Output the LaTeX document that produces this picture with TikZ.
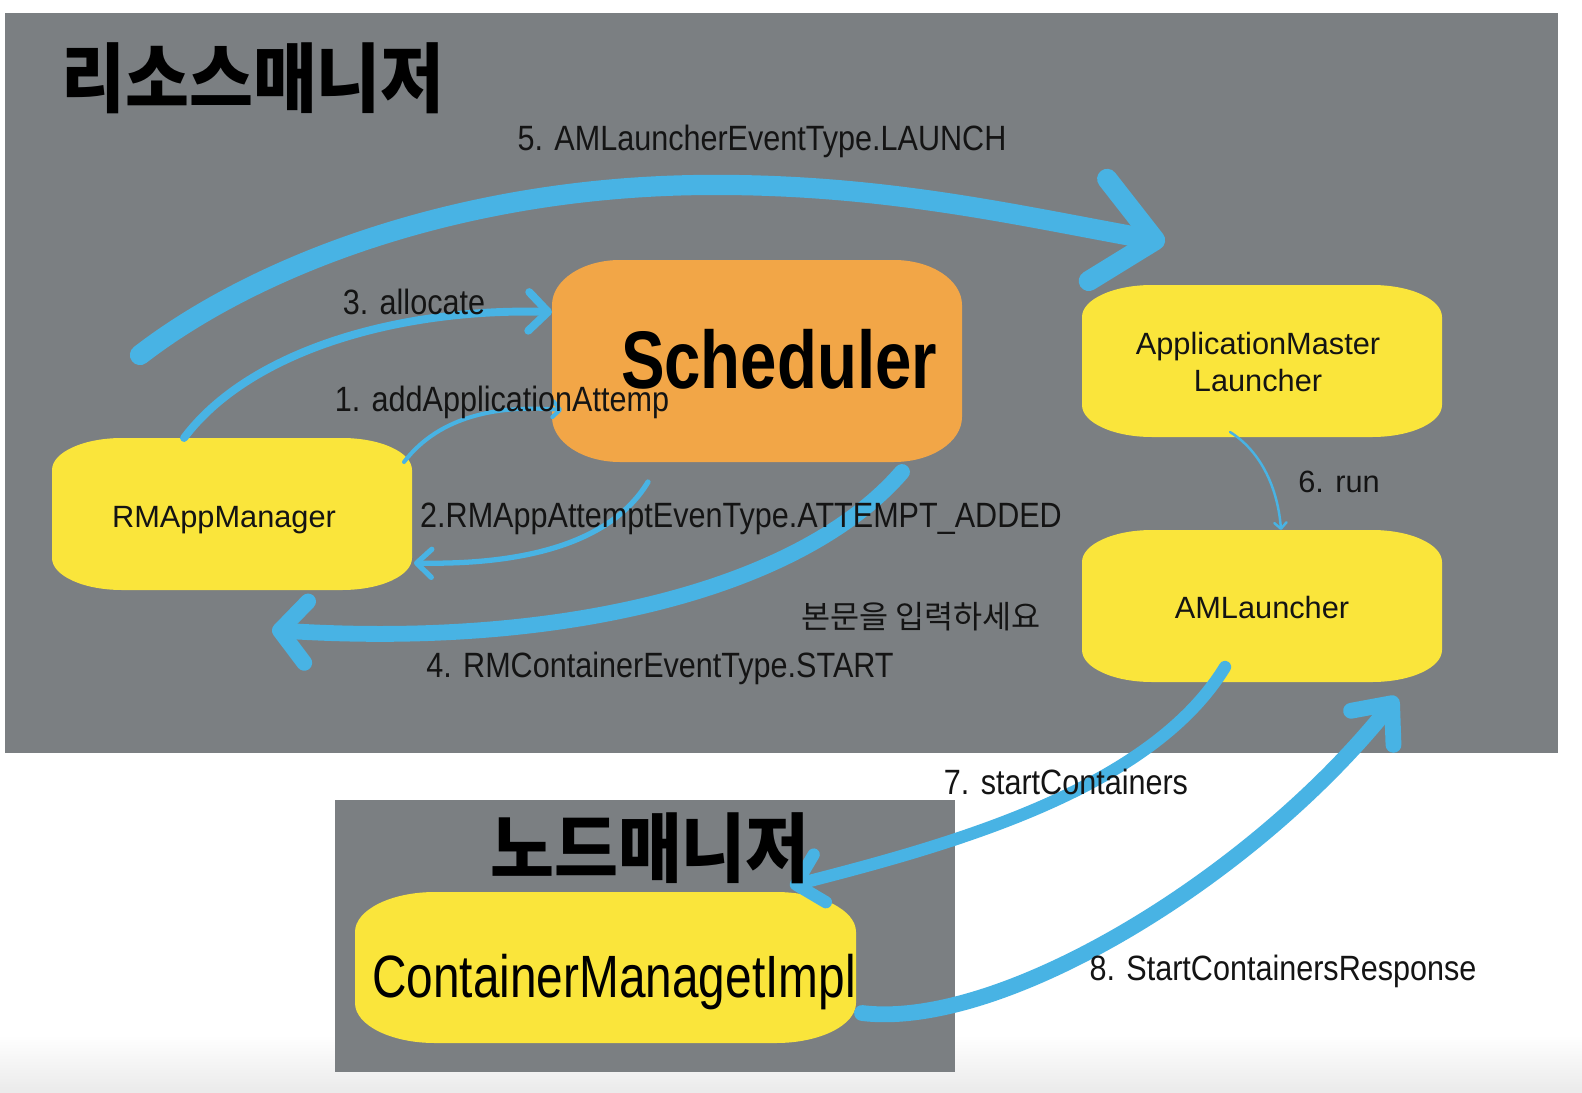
\documentclass[tikz,border=0pt]{standalone}
\usepackage{fontspec}
\setmainfont{Liberation Sans}
\newfontfamily\labfont[FakeStretch=0.87]{Liberation Sans}
\newfontfamily\bigfont[FakeStretch=0.8]{Liberation Sans}
\newfontfamily\krfont{Noto Sans CJK KR}
\newfontfamily\krtitle[FakeStretch=0.92]{Noto Sans CJK KR}
\usetikzlibrary{arrows.meta}
\definecolor{bggray}{HTML}{7B7F82}
\definecolor{boxyellow}{HTML}{FAE53B}
\definecolor{boxorange}{HTML}{F2A647}
\definecolor{flowblue}{HTML}{48B3E4}
\definecolor{inkc}{HTML}{141414}
% #1 colour, #2 x1, #3 y1, #4 x2, #5 y2, #6 rx, #7 ry
\newcommand{\pillshape}[7]{%
  \fill[#1] (#2+#6,#3) -- (#4-#6,#3)
    .. controls +(0.552*#6,0) and +(0,-0.552*#7) .. (#4,#3+#7)
    -- (#4,#5-#7)
    .. controls +(0,0.552*#7) and +(0.552*#6,0) .. (#4-#6,#5)
    -- (#2+#6,#5)
    .. controls +(-0.552*#6,0) and +(0,0.552*#7) .. (#2,#5-#7)
    -- (#2,#3+#7)
    .. controls +(0,-0.552*#7) and +(-0.552*#6,0) .. (#2+#6,#3)
    -- cycle;}
\begin{document}
\begin{tikzpicture}[x=0.02cm,y=-0.02cm,
  flow/.style={draw=flowblue, line cap=round, line join=round},
  lab/.style={font=\labfont\fontsize{20}{24}\selectfont, text=inkc, inner sep=0pt, anchor=base},
  boxtxt/.style={font=\fontsize{17.5}{21}\selectfont, text=inkc, inner sep=0pt, anchor=base, align=center},
  ttl/.style={font=\krtitle\bfseries\fontsize{43}{48}\selectfont, text=black, inner sep=0pt}]

\useasboundingbox (0,0) rectangle (1582,1092);
\fill[white] (0,0) rectangle (1582,1092);
\shade[top color=white,bottom color=black!8] (0,1035) rectangle (1582,1092);
\fill[bggray] (5,13) rectangle (1558,753);
\fill[bggray] (335,800) rectangle (955,1072);

% boxes
\pillshape{boxyellow}{52}{438}{412}{590}{70}{32}
\pillshape{boxorange}{552}{260}{962}{462}{68}{45}
\pillshape{boxyellow}{1082}{285}{1442}{437}{70}{32}
\pillshape{boxyellow}{1082}{530}{1442}{682}{70}{32}
\pillshape{boxyellow}{355}{892}{856}{1043}{80}{40}

% connector end points
\coordinate (c5s) at (140,355);
\coordinate (c5m) at (700,185);
\coordinate (c5e) at (1165,242);
\coordinate (c3s) at (184,438);
\coordinate (c3e) at (552,312);
\coordinate (c1s) at (404,462);
\coordinate (c1e) at (562,410);
\coordinate (c2s) at (648,482);
\coordinate (c2e) at (414,563);
\coordinate (c4s) at (902,472);
\coordinate (c4e) at (272,630);
\coordinate (c6s) at (1230,432);
\coordinate (c6e) at (1281,530);
\coordinate (c7s) at (1225,667);
\coordinate (c7e) at (790,886);
\coordinate (c8s) at (862,1013);
\coordinate (c8e) at (1397,697);

% connectors
\draw[flow, line width=11.5pt, -{Straight Barb[length=33pt,width=59pt,round]}]
  (c5s) .. controls (250,270) and (450,188) .. (c5m)
        .. controls (880,183) and (1015,215) .. (c5e);
\draw[flow, line width=4.5pt, -{Straight Barb[length=11pt,width=22pt,round]}]
  (c3s) .. controls (250,350) and (400,308) .. (c3e);
\draw[flow, line width=2.3pt, -{Straight Barb[length=4pt,width=9pt,round]}]
  (c1s) .. controls (440,415) and (500,405) .. (c1e);
\draw[flow, line width=3pt, -{Straight Barb[length=8.5pt,width=16pt,round]}]
  (c2s) .. controls (610,545) and (520,565) .. (c2e);
\draw[flow, line width=9pt, -{Straight Barb[length=15pt,width=35pt,round]}]
  (c4s) .. controls (800,590) and (560,648) .. (c4e);
\draw[flow, line width=1.4pt, -{Straight Barb[length=3.5pt,width=7pt,round]}]
  (c6s) .. controls (1262,452) and (1278,490) .. (c6e);
\draw[flow, line width=7pt, -{Straight Barb[length=14pt,width=28pt,round]}]
  (c7s) .. controls (1150,790) and (950,845) .. (c7e);
\draw[flow, line width=9pt, -{Straight Barb[length=18pt,width=31pt,round]}]
  (c8s) .. controls (1000,1030) and (1250,880) .. (c8e);

% titles
\node[ttl] (rmtitle) at (253,78) {리소스매니저};
\node[ttl] (nmtitle) at (650,848) {노드매니저};

% box texts
\node[boxtxt] (rmapp) at (224,527) {RMAppManager};
\node[font=\bigfont\bfseries\fontsize{46.5}{50}\selectfont, text=black, inner sep=0pt, anchor=base] (sched) at (779,388) {Scheduler};
\node[boxtxt] (aml) at (1258,391) {ApplicationMaster\\Launcher};
\node[boxtxt] (amlauncher) at (1262,618) {AMLauncher};
\node[font=\bigfont\fontsize{34}{40}\selectfont, text=black, inner sep=0pt, anchor=base] (cmi) at (614,997) {ContainerManagetImpl};

% labels
\node[lab] (l5) at (762,150) {5. AMLauncherEventType.LAUNCH};
\node[lab] (l3) at (414,314) {3. allocate};
\node[lab] (l1) at (502,411) {1. addApplicationAttemp};
\node[lab] (l2) at (741,527) {2.RMAppAttemptEvenType.ATTEMPT\_ADDED};
\node[font=\krfont\fontsize{18}{22}\selectfont, text=inkc, inner sep=0pt] (lkr) at (921,617) {본문을 입력하세요};
\node[lab] (l4) at (660,677) {4. RMContainerEventType.START};
\node[boxtxt] (l6) at (1339,492) {6. run};
\node[lab] (l7) at (1066,794) {7. startContainers};
\node[lab] (l8) at (1283,980) {8. StartContainersResponse};
\end{tikzpicture}
\end{document}
